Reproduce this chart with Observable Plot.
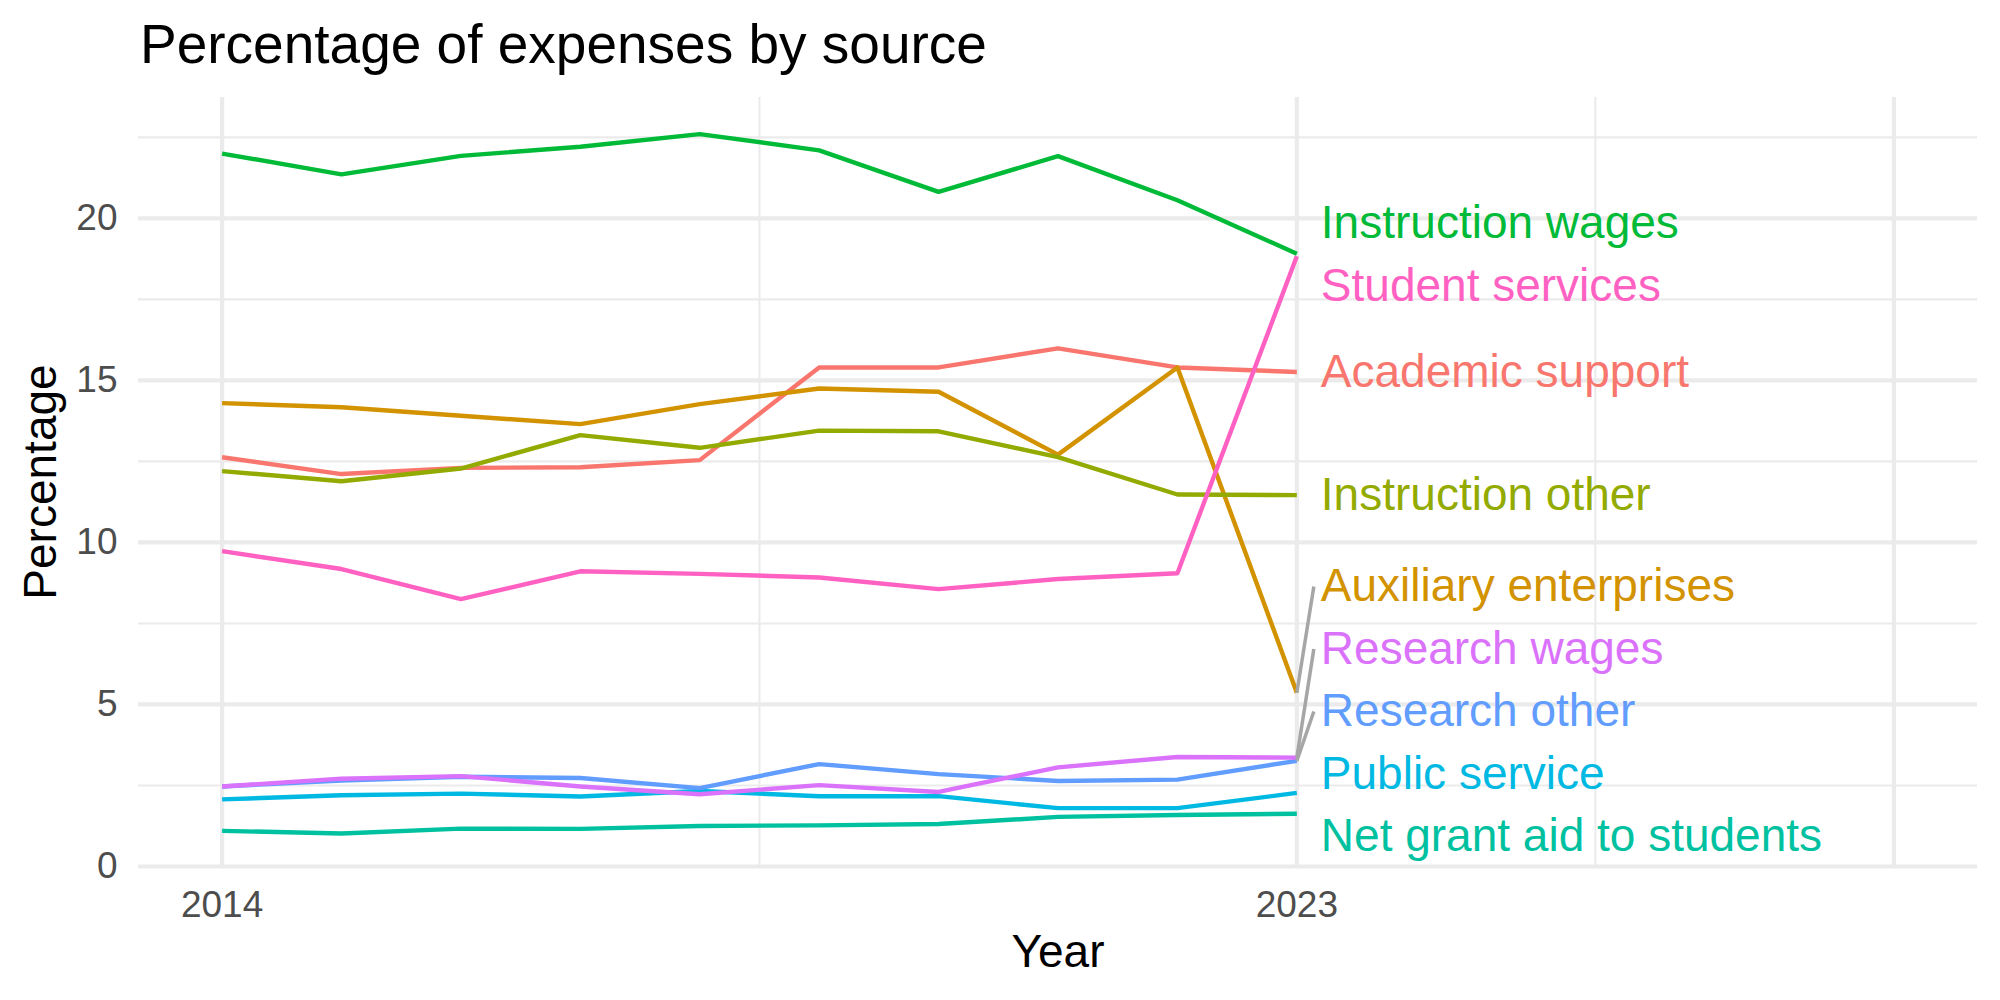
<!DOCTYPE html>
<html>
<head>
<meta charset="utf-8">
<script src="https://cdn.jsdelivr.net/npm/d3@7"></script>
<script src="https://cdn.jsdelivr.net/npm/@observablehq/plot@0.6"></script>
<style>
  html, body { margin: 0; padding: 0; background: #fff; overflow: hidden; }
  body { width: 2000px; height: 1000px; font-family: "Liberation Sans", Arial, Helvetica, sans-serif; }
  #title { height: 84px; box-sizing: border-box; padding: 4px 0 0 140px; font-size: 55px; line-height: 80px; color: #000; white-space: nowrap; }
  #chart svg { display: block; }
</style>
</head>
<body>
<div id="title">Percentage of expenses by source</div>
<div id="chart"></div>
<script>
// Expense shares (%) by year
const years = [2014, 2015, 2016, 2017, 2018, 2019, 2020, 2021, 2022, 2023];

const categories = [
  "Academic support",
  "Auxiliary enterprises",
  "Instruction other",
  "Instruction wages",
  "Net grant aid to students",
  "Public service",
  "Research other",
  "Research wages",
  "Student services"
];

const colors = ["#F8766D", "#D39200", "#93AA00", "#00BA38", "#00C19F", "#00B9E3", "#619CFF", "#DB72FB", "#FF61C3"];

const academicSupport      = [12.63, 12.11, 12.30, 12.32, 12.54, 15.40, 15.40, 15.99, 15.40, 15.26];
const auxiliaryEnterprises = [14.30, 14.17, 13.91, 13.65, 14.27, 14.75, 14.65, 12.71, 15.40, 5.36];
const instructionOther     = [12.20, 11.89, 12.28, 13.31, 12.92, 13.45, 13.43, 12.63, 11.48, 11.46];
const instructionWages     = [22.00, 21.36, 21.93, 22.21, 22.60, 22.10, 20.82, 21.92, 20.56, 18.91];
const netGrantAid          = [1.10, 1.02, 1.17, 1.16, 1.25, 1.27, 1.31, 1.53, 1.59, 1.63];
const publicService        = [2.07, 2.20, 2.25, 2.16, 2.33, 2.17, 2.17, 1.80, 1.80, 2.27];
const researchOther        = [2.47, 2.65, 2.77, 2.73, 2.42, 3.16, 2.85, 2.64, 2.68, 3.26];
const researchWages        = [2.47, 2.71, 2.79, 2.47, 2.23, 2.51, 2.30, 3.06, 3.38, 3.36];
const studentServices      = [9.73, 9.18, 8.25, 9.11, 9.03, 8.92, 8.56, 8.87, 9.05, 18.83];

const series = [academicSupport, auxiliaryEnterprises, instructionOther, instructionWages,
                netGrantAid, publicService, researchOther, researchWages, studentServices];

// Axis breaks
const xMajor = [2014, 2023, 2028];
const xMinor = [2018.5, 2025.5];
const xLabels = [2014, 2023];
const yMajor = [0, 5, 10, 15, 20];
const yMinor = [2.5, 7.5, 12.5, 17.5, 22.5];

// Long-format table
const rows = categories.flatMap((c, i) => years.map((yr, j) => ({category: c, year: yr, value: series[i][j]})));

// Layout
const width = 2000, height = 916;
const marginTop = 13, marginBottom = 134, marginLeft = 138, marginRight = 23;
const xLimits = [2014, 2028];
const xPad = (xLimits[1] - xLimits[0]) * 0.05;
const xDomain = [xLimits[0] - xPad, xLimits[1] + xPad];
const yDomain = [0, d3.max(rows, d => d.value) * 1.05];
const pxPerYear = (width - marginLeft - marginRight) / (xDomain[1] - xDomain[0]);
const pxPerUnit = (height - marginTop - marginBottom) / (yDomain[1] - yDomain[0]);

// Spread end labels vertically so they don't overlap
function dodgeLabels(targets, gap, floor) {
  const order = d3.sort(d3.range(targets.length), i => targets[i]);
  const blocks = [];
  const place = b => { b.start = Math.max(floor, b.sum / b.ids.length - (b.ids.length - 1) * gap / 2); };
  for (const i of order) {
    let b = {ids: [i], sum: targets[i]};
    place(b);
    while (blocks.length) {
      const a = blocks[blocks.length - 1];
      if (b.start >= a.start + a.ids.length * gap) break;
      blocks.pop();
      b = {ids: [...a.ids, ...b.ids], sum: a.sum + b.sum};
      place(b);
    }
    blocks.push(b);
  }
  const out = new Array(targets.length);
  for (const b of blocks) b.ids.forEach((id, k) => { out[id] = b.start + k * gap; });
  return out;
}

const lastYear = years[years.length - 1];
const endValues = series.map(s => s[s.length - 1]);
const labelY = dodgeLabels(endValues, 62.5 / pxPerUnit, 30 / pxPerUnit);
const labels = categories.map((c, i) => ({category: c, value: endValues[i], ly: labelY[i]}));
const leaders = labels.filter(d => Math.abs(d.ly - d.value) > 1.2);
const leaderX = lastYear + 17 / pxPerYear;

const grid = {stroke: "#EBEBEB", strokeOpacity: 1};

const chart = Plot.plot({
  width, height, marginTop, marginBottom, marginLeft, marginRight,
  style: {fontFamily: "Liberation Sans, Arial, Helvetica, sans-serif", fontSize: "37px", color: "#4D4D4D", background: "#fff"},
  x: {domain: xDomain},
  y: {domain: yDomain},
  color: {domain: categories, range: colors},
  marks: [
    Plot.gridY(yMinor, {...grid, strokeWidth: 2.1}),
    Plot.gridX(xMinor, {...grid, strokeWidth: 2.1}),
    Plot.gridY(yMajor, {...grid, strokeWidth: 4.2}),
    Plot.gridX(xMajor, {...grid, strokeWidth: 4.2}),
    Plot.axisY(yMajor, {tickSize: 0, tickPadding: 21, fontSize: 37, label: null}),
    Plot.axisX(xLabels, {tickSize: 0, tickPadding: 24, fontSize: 37, label: null, tickFormat: d => String(d)}),
    Plot.line(rows, {x: "year", y: "value", z: "category", stroke: "category", strokeWidth: 4.4, strokeLinecap: "butt", strokeLinejoin: "round"}),
    Plot.link(leaders, {x1: lastYear, y1: "value", x2: leaderX, y2: "ly", stroke: "#A6A6A6", strokeWidth: 3.5, strokeLinecap: "butt"}),
    Plot.text(labels, {x: lastYear, y: "ly", text: "category", fill: "category", dx: 24, textAnchor: "start", lineAnchor: "middle", fontSize: 46}),
    Plot.text(["Year"], {frameAnchor: "bottom", dy: 86, text: d => d, fill: "#000", fontSize: 46, textAnchor: "middle", lineAnchor: "middle"}),
    Plot.text(["Percentage"], {frameAnchor: "left", dx: -97, rotate: -90, text: d => d, fill: "#000", fontSize: 46, textAnchor: "middle", lineAnchor: "middle"})
  ]
});

document.getElementById("chart").append(chart);
</script>
</body>
</html>
